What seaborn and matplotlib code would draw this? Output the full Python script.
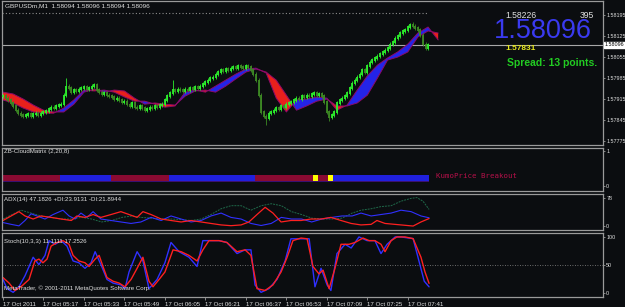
import numpy as np
import pandas as pd
import matplotlib
matplotlib.use("Agg")
import matplotlib.pyplot as plt
from matplotlib.transforms import blended_transform_factory
import seaborn as sns

# ---------------- data ----------------
HEADER = "GBPUSDm,M1  1.58094 1.58096 1.58094 1.58096"
CLOSES = [
    1.57925, 1.57918, 1.57912, 1.57902, 1.57892, 1.57878, 1.57868, 1.57862, 1.57858, 1.57862,
    1.57865, 1.57858, 1.57865, 1.57868, 1.57862, 1.57868, 1.57872, 1.57875, 1.57882, 1.57888,
    1.57885, 1.57892, 1.57895, 1.57898, 1.57928, 1.57958, 1.57952, 1.57938, 1.57945, 1.57942,
    1.57948, 1.57952, 1.57955, 1.57948, 1.57952, 1.57958, 1.57962, 1.57945, 1.57938, 1.57932,
    1.57935, 1.57928, 1.57925, 1.57922, 1.57915, 1.57918, 1.57912, 1.57905, 1.57908, 1.57898,
    1.57892, 1.57902, 1.57888, 1.57885, 1.57892, 1.57885, 1.57878, 1.57882, 1.57888, 1.57885,
    1.57892, 1.57888, 1.57895, 1.57898, 1.57912, 1.57925, 1.57935, 1.57945, 1.57942, 1.57948,
    1.57945, 1.57942, 1.57948, 1.57945, 1.57952, 1.57948, 1.57955, 1.57952, 1.57958, 1.57965,
    1.57972, 1.57978, 1.57985, 1.57988, 1.57998, 1.58005, 1.58012, 1.58008, 1.58015, 1.58012,
    1.58018, 1.58022, 1.58018, 1.58025, 1.58022, 1.58018, 1.58025, 1.58022, 1.58012, 1.57998,
    1.57978, 1.57928, 1.57872, 1.57858, 1.57852, 1.57868, 1.57872, 1.57878, 1.57885, 1.57882,
    1.57892, 1.57888, 1.57898, 1.57902, 1.57905, 1.57912, 1.57918, 1.57915, 1.57925, 1.57922,
    1.57928, 1.57925, 1.57932, 1.57935, 1.57928, 1.57932, 1.57925, 1.57905, 1.57872, 1.57855,
    1.57862, 1.57872, 1.57902, 1.57912, 1.57918, 1.57925, 1.57935, 1.57952, 1.57968, 1.57978,
    1.57988, 1.57998, 1.58012, 1.58005, 1.58025, 1.58038, 1.58045, 1.58052, 1.58058, 1.58065,
    1.58072, 1.58078, 1.58085, 1.58098, 1.58105, 1.58118, 1.58125, 1.58135, 1.58142, 1.58145,
    1.58155, 1.58162, 1.58158, 1.58152, 1.58145, 1.58128, 1.58098, 1.58085, 1.58096,
]
SPIKE_HIGH = {25: 1.57985, 67: 1.57978, 162: 1.58172}
SPIKE_LOW = {104: 1.57828, 129: 1.57842}

CLOUD_IDX = list(range(0, 173, 4))
CLOUD_A = [
    1.57912, 1.57902, 1.57885, 1.57872, 1.57868, 1.57868, 1.57885, 1.57912, 1.57945, 1.57942,
    1.57945, 1.57938, 1.57922, 1.57908, 1.57908, 1.57898, 1.57888, 1.57892, 1.57938, 1.57945,
    1.57938, 1.57958, 1.57978, 1.57998, 1.58015, 1.58018, 1.58002, 1.57918, 1.57872, 1.57912,
    1.57915, 1.57922, 1.57918, 1.57878, 1.57895, 1.57945, 1.57992, 1.58028, 1.58052, 1.58072,
    1.58098, 1.58135, 1.58155, 1.58112,
]
CLOUD_B = [
    1.57938, 1.57932, 1.57915, 1.57895, 1.57878, 1.57872, 1.57872, 1.57898, 1.57938, 1.57948,
    1.57938, 1.57945, 1.57942, 1.57918, 1.57898, 1.57902, 1.57898, 1.57895, 1.57925, 1.57942,
    1.57945, 1.57938, 1.57958, 1.57982, 1.58005, 1.58015, 1.58005, 1.57978, 1.57928, 1.57878,
    1.57892, 1.57908, 1.57915, 1.57892, 1.57892, 1.57902, 1.57928, 1.57985, 1.58045, 1.58055,
    1.58072, 1.58122, 1.58142, 1.58135,
]

PRICE_TICKS = [1.58195, 1.58125, 1.58055, 1.57985, 1.57915, 1.57845, 1.57775]
PRICE_LABELS = ["1.58195", "1.58125", "1.58055", "1.57985", "1.57915", "1.57845", "1.57775"]
BID = 1.58096
BID_LABEL = "1.58096"
TOP_LINE = 1.58202
INFO_HIGH = "1.58226"
INFO_COUNT = "395"
INFO_PRICE = "1.58096"
INFO_LOW = "1.57831"
SPREAD_TEXT = "Spread: 13 points."

CM_LABEL = "ZB-CloudMatrix (2,20,8)"
CM_STATES = ["bear", "bull", "bear", "bull", "bear", "breakout", "bear", "breakout", "bull"]
CM_LENGTHS = [23, 20, 23, 34, 23, 2, 4, 2, 38]
CM_TEXT = "KumoPrice Breakout"

ADX_LABEL = "ADX(14) 47.1826 +DI:23.9131 -DI:21.8944"
ADX_X = [0, 7.1, 11.1, 15, 19, 23, 27, 31, 35, 39, 43, 47, 51, 54.5, 58.5, 62.5, 66.4, 70.4, 74.3,
         78.3, 82.2, 86.2, 90.1, 94.1, 98, 102, 106, 110, 114, 118, 122, 126, 130, 134, 138,
         141.5, 145.5, 149.4, 153.4, 157.3, 161.3, 163.6, 166, 168.4]
ADX_V = [20.5, 45, 37, 29, 25, 20.5, 20.5, 25, 20.5, 12.3, 16.4, 25, 29, 25, 23, 20.5, 20.5, 19,
         16.4, 20.5, 33, 49, 57.5, 57.5, 45, 57.5, 63, 57.5, 41, 33, 23, 20.5, 20.5, 23, 37,
         45, 49, 55, 57.5, 70, 78, 80, 70, 47.2]
PDI_X = [0, 3.2, 6.3, 8.7, 11.1, 13.4, 16.6, 19.8, 23.7, 26.1, 28.5, 30.8, 33.2, 35.6, 38.7, 42.7,
         46.6, 50.6, 54.5, 58.5, 62.5, 66.4, 70.4, 74.3, 78.3, 82.2, 86.2, 90.1, 94.1, 98, 102,
         106, 110, 114, 118, 122, 126, 130, 134, 138, 141.5, 145.5, 149.4, 153.4, 157.3, 161.3,
         165.2, 168.4]
PDI_V = [10.7, 5.7, 1.5, 16.4, 35, 29, 20.5, 33, 45, 29, 20.5, 37, 25, 41, 20.5, 16.4,
         12.3, 8.2, 12.3, 25, 16.4, 29, 20.5, 12.3, 16.4, 29, 37, 25, 20.5, 8.2, 2.5,
         8.2, 25, 20.5, 20.5, 12.3, 20.5, 25, 29, 29, 37, 29, 33, 37, 45, 41,
         29, 23.9]
MDI_X = [0, 3.2, 6.3, 8.7, 11.9, 15, 19, 23, 27, 29.2, 32.4, 35.6, 38.7, 42.7, 46.6, 49.8, 53,
         55.3, 58.5, 62.5, 66.4, 70.4, 74.3, 78.3, 82.2, 86.2, 90.1, 94.1, 97.2, 100.4, 103.6,
         106.7, 109.9, 113.8, 117.8, 121.7, 125.7, 129.6, 133.6, 137.6, 141.5, 145.5, 147.8,
         151, 157.3, 162.1, 165.2, 168.4]
MDI_V = [16.4, 29, 41, 29, 20.5, 29, 25, 20.5, 16.4, 29, 25, 33, 25, 33, 41, 33, 25,
         41, 33, 20.5, 16.4, 12.3, 16.4, 12.3, 8.2, 4.1, 2, 4.1, 12.3, 33, 53,
         37, 12.3, 16.4, 16.4, 20.5, 20.5, 25, 16.4, 8.2, 4.1, 5.7, 16.4,
         8.2, 4.1, 1, 12.3, 21.9]

STO_LABEL = "Stoch(10,3,3) 11.1111 17.2526"
STO_K_X = [0, 1.6, 4, 6.3, 8.7, 11.9, 14.2, 16.6, 18.2, 20.6, 23, 25.3, 27.7, 30, 32.4, 34.8,
           36.4, 38.7, 41.1, 43.5, 46.6, 48.2, 49.8, 53, 55.3, 57.7, 60.9, 64, 66.4, 69.6, 73.5,
           76.7, 79, 82.2, 85.4, 88.5, 92.5, 95.7, 98, 99.6, 102, 105.1, 108.3, 111.5, 113.8,
           117, 121, 123.3, 125.7, 128.1, 129.6, 132, 135.2, 137.6, 140.7, 143.9, 147, 149.4,
           151.8, 155, 157.3, 162.1, 164.4, 166.5, 168.4]
STO_K_V = [24.3, 7.9, 1.3, 11.2, 30.9, 63.8, 50.7, 67.1, 93.4, 86.9, 93.4, 83.6, 57.2, 54, 44.1, 54,
           73.7, 50.7, 24.3, 17.8, 14.5, 7.9, 37.5, 73.7, 57.2, 7.9, 24.3, 54, 90.1, 73.7, 63.8,
           47.4, 93.4, 93.4, 93.4, 90.1, 70.4, 77, 77, 14.5, 1.3, 7.9, 24.3, 57.2, 96.7,
           96.7, 96.7, 11.2, 44.1, 14.5, 4.6, 70.4, 86.9, 80.3, 100, 93.4, 93.4, 70.4,
           86.9, 100, 100, 97, 57.2, 21.1, 11.1]
STO_D_X = [0, 2.4, 4.7, 7.1, 10.3, 12.6, 14.2, 15.8, 17.4, 19, 21.3, 23.7, 26.1, 27.7, 30, 32.4,
           34, 36.4, 38, 39.5, 41.1, 43.5, 45.9, 48.2, 50.6, 53, 55.3, 57.7, 59.3, 61.7, 64, 67.2,
           70.4, 73.5, 76.7, 79, 81.4, 85.4, 88.5, 92.5, 95.7, 98, 100.4, 103.6, 106.7, 109.9,
           112.3, 114.6, 117.8, 120.2, 122.5, 124.9, 126.5, 128.9, 131.2, 133.6, 136.8, 139.1,
           142.3, 144.7, 147, 149.4, 151, 153.4, 155.7, 158.9, 162.1, 165.2, 166.8, 168.4]
STO_D_V = [27.6, 17.8, 4.6, 11.2, 24.3, 57.2, 60.5, 54, 60.5, 83.6, 90.1, 93.4, 86.9, 67.1, 57.2, 54,
           47.4, 60.5, 67.1, 47.4, 27.6, 21.1, 17.8, 11.2, 24.3, 44.1, 63.8, 21.1, 11.2, 24.3, 37.5, 77,
           73.7, 67.1, 57.2, 77, 93.4, 93.4, 90.1, 73.7, 77, 67.1, 7.9, 4.6, 14.5, 37.5,
           63.8, 93.4, 98, 96.7, 47.4, 34.2, 40.8, 7.9, 44.1, 86.9, 86.9, 90.1,
           98, 93.4, 93.4, 86.9, 73.7, 93.4, 100, 100, 97, 63.8, 37.5, 17.3]

TIME_TICKS = [0, 16, 32, 48, 64, 80, 96, 112, 128, 144, 160]
TIME_LABELS = ["17 Oct 2011", "17 Oct 05:17", "17 Oct 05:33", "17 Oct 05:49", "17 Oct 06:05",
               "17 Oct 06:21", "17 Oct 06:37", "17 Oct 06:53", "17 Oct 07:09", "17 Oct 07:25",
               "17 Oct 07:41"]
COPYRIGHT = "MetaTrader, \u00a9 2001-2011 MetaQuotes Software Corp."

# ---------------- style ----------------
sns.set_theme(style="dark")
plt.rcParams['font.family'] = ['Liberation Sans', 'DejaVu Sans']
BG = "#0b0d10"
FG = "#e0e0e0"
FRAME = "#9a9a9a"
UP = "#2cf02c"
DN = "#3d8a24"
CL_BLUE = "#2424e8"
CL_RED = "#e8201c"
CL_EDGE = "#8a0a6a"
W_PX, H_PX = 625, 307
PX_PER_BAR = 2.53
SMALL = 4.4
AXLAB = 3.9

fig = plt.figure(figsize=(W_PX / 100, H_PX / 100), dpi=100, facecolor=BG)

def panel(top, bottom, left=2, right=603):
    ax = fig.add_axes([left / W_PX, 1 - bottom / H_PX, (right - left) / W_PX, (bottom - top) / H_PX])
    ax.set_facecolor(BG)
    ax.grid(False)
    for s in ax.spines.values():
        s.set_color(FRAME)
        s.set_linewidth(0.9)
    ax.set_xlim(-0.4, (right - left) / PX_PER_BAR - 0.4)
    ax.yaxis.tick_right()
    ax.tick_params(axis='y', colors=FRAME, labelcolor=FG, labelsize=AXLAB, length=1.5, width=0.6,
                   pad=0.8, right=True, left=False)
    ax.tick_params(axis='x', bottom=False, labelbottom=False)
    return ax

def ftext(x, y, s, **kw):
    fig.text(x / W_PX, 1 - y / H_PX, s, va='center', **kw)

# ---------------- main price panel ----------------
ax = panel(1, 145)
ax.set_ylim(1.57762, 1.582417)
ax.set_yticks(PRICE_TICKS)
ax.set_yticklabels(PRICE_LABELS)

cx = np.array(CLOUD_IDX, dtype=float)
ca = np.array(CLOUD_A)
cb = np.array(CLOUD_B)
ax.fill_between(cx, ca, cb, where=ca >= cb, interpolate=True, color=CL_BLUE, lw=0, zorder=2)
ax.fill_between(cx, ca, cb, where=ca < cb, interpolate=True, color=CL_RED, lw=0, zorder=2)
sns.lineplot(x=cx, y=ca, ax=ax, color=CL_EDGE, linewidth=0.7, zorder=2.5, legend=False)
sns.lineplot(x=cx, y=cb, ax=ax, color=CL_EDGE, linewidth=0.7, zorder=2.5, legend=False)

closes = np.array(CLOSES)
opens = np.r_[closes[0], closes[:-1]]
idx = np.arange(len(closes))
body_lo = np.minimum(opens, closes)
body_hi = np.maximum(opens, closes)
hi = body_hi + 0.00006
lo = body_lo - 0.00006
for k, v in SPIKE_HIGH.items():
    hi[k] = v
for k, v in SPIKE_LOW.items():
    lo[k] = v
cols = np.where(closes >= opens, UP, DN)
ax.vlines(idx, lo, hi, colors=cols, lw=0.6, zorder=3)
ax.vlines(idx, body_lo - 0.00002, body_hi + 0.00002, colors=cols, lw=1.3, zorder=3)

ax.axhline(BID, color="#a8a8a8", lw=0.8, zorder=1)
ax.hlines(TOP_LINE, -0.4, 168, color="#8c8c8c", lw=0.8, linestyles=(0, (1, 2)), zorder=1)
tr = blended_transform_factory(ax.transAxes, ax.transData)
ax.text(1.003, BID, BID_LABEL, transform=tr, ha='left', va='center', fontsize=AXLAB, color='black',
        bbox=dict(facecolor='white', edgecolor='white', pad=0.5), zorder=5, clip_on=False)

ftext(5, 6, HEADER, color=FG, fontsize=4.6)
ftext(505, 15.5, INFO_HIGH, color=FG, fontsize=6.2)
ftext(580, 15.5, INFO_COUNT, color=FG, fontsize=6.2)
fig.text(494 / W_PX, 1 - 38.5 / H_PX, INFO_PRICE, va='baseline', color="#3a3af0", fontsize=19.5)
ftext(505, 48, INFO_LOW, color="#e8e820", fontsize=6.0, fontweight='bold')
ftext(507, 63, SPREAD_TEXT, color="#22cc22", fontsize=7.5, fontweight='bold')

# ---------------- cloud matrix panel ----------------
ax2 = panel(148, 191)
ax2.set_ylim(-0.15, 1.1)
ax2.set_yticks([1, 0])
ax2.set_yticklabels(["1", "0"])
cm_color = {"bear": "#8a0a32", "bull": "#2020dd", "breakout": "#ffff00"}
bar_x, bar_c = [], []
start = 0
for st, n in zip(CM_STATES, CM_LENGTHS):
    for j in range(n):
        bar_x.append(start + j)
        bar_c.append(cm_color[st])
    start += n
ax2.bar(bar_x, 0.17, bottom=0.14, width=1.0, color=bar_c, linewidth=0)
ax2.bar(bar_x, 0.03, bottom=0.11, width=1.0, color="#3a1070", linewidth=0)
ftext(4, 152, CM_LABEL, color=FG, fontsize=SMALL)
ftext(436, 176, CM_TEXT, color="#b8104a", fontsize=5.3, family='DejaVu Sans Mono')

# ---------------- ADX panel ----------------
ax3 = panel(194, 230)
ax3.set_ylim(-10, 90)
ax3.set_yticks([78, 0])
ax3.set_yticklabels(["78", "0"])
sns.lineplot(x=ADX_X, y=ADX_V, ax=ax3, color="#1f6a4a", linewidth=0.7, linestyle=(0, (2, 1)), legend=False)
sns.lineplot(x=PDI_X, y=PDI_V, ax=ax3, color="#3030ff", linewidth=0.8, legend=False)
sns.lineplot(x=MDI_X, y=MDI_V, ax=ax3, color="#ff2020", linewidth=0.9, legend=False)
ftext(4, 200, ADX_LABEL, color=FG, fontsize=SMALL)

# ---------------- Stochastic panel ----------------
ax4 = panel(233, 297)
ax4.set_ylim(-7, 107)
ax4.set_yticks([100, 50, 0])
ax4.set_yticklabels(["100", "50", "0"])
ax4.axhline(50, color="#8c8c8c", lw=0.6, linestyle=(0, (1, 2)))
sns.lineplot(x=STO_K_X, y=STO_K_V, ax=ax4, color="#3030ff", linewidth=1.0, legend=False)
sns.lineplot(x=STO_D_X, y=STO_D_V, ax=ax4, color="#ff2020", linewidth=1.0, legend=False)
ftext(4, 241, STO_LABEL, color=FG, fontsize=SMALL)
ftext(4, 288, COPYRIGHT, color=FG, fontsize=SMALL)
ax4.set_xticks(TIME_TICKS)
ax4.set_xticklabels(TIME_LABELS)
ax4.tick_params(axis='x', bottom=True, labelbottom=True, colors=FRAME, labelcolor=FG,
                labelsize=SMALL, length=2.5, width=0.6, pad=1)
for lbl in ax4.get_xticklabels():
    lbl.set_ha('left')

for a in (ax, ax2, ax3, ax4):
    a.set_xlabel("")
    a.set_ylabel("")

fig.savefig("out.png", dpi=100, facecolor=BG)
